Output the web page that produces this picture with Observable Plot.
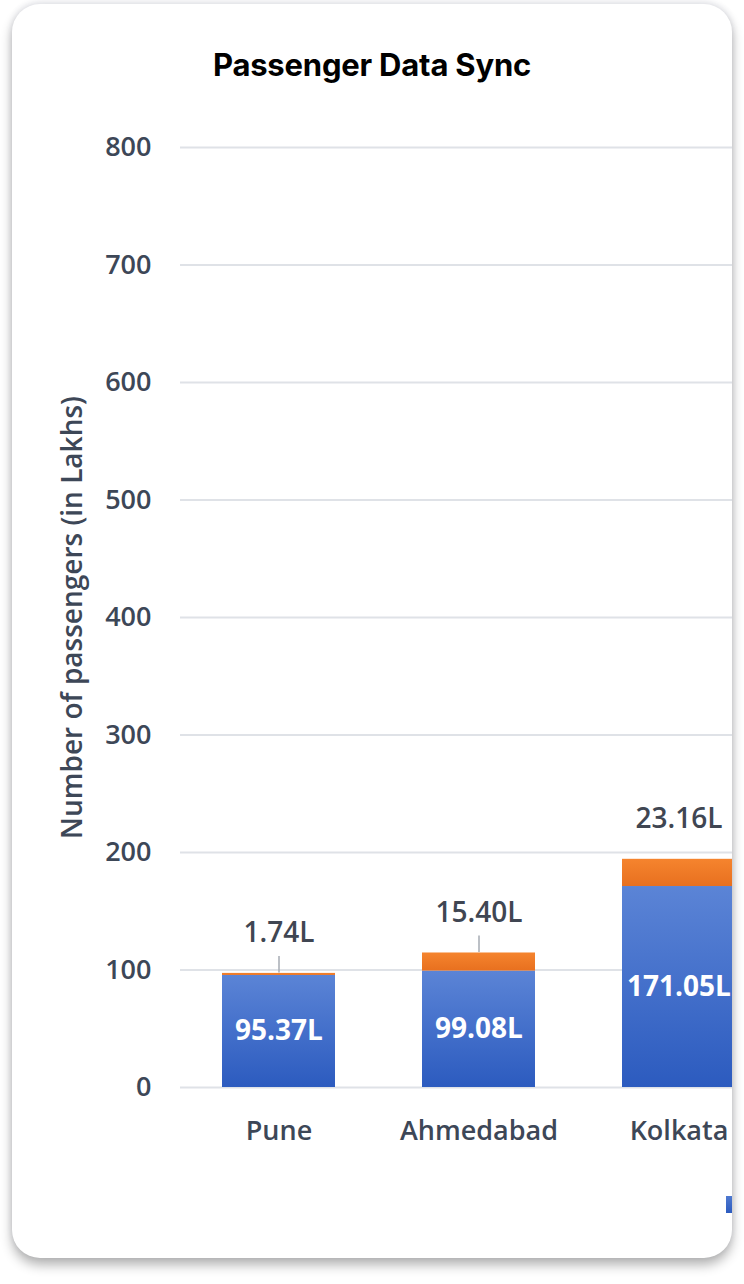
<!DOCTYPE html>
<html>
<head>
<meta charset="utf-8">
<script src="https://cdn.jsdelivr.net/npm/d3@7"></script>
<script src="https://cdn.jsdelivr.net/npm/@observablehq/plot@0.6"></script>
<style>
  html, body { margin: 0; padding: 0; background: #ffffff; width: 744px; height: 1284px; overflow: hidden; }
  #card {
    position: absolute; left: 12px; top: 4px; width: 720px; height: 1254px;
    background: #fff; border-radius: 28px; overflow: hidden;
    box-shadow: 0 7px 12px rgba(0,0,0,0.30), 0 -2px 6px rgba(40,50,90,0.12);
  }
  #title {
    position: absolute; left: 0; top: 44px; width: 100%; height: 34px; line-height: 34px;
    text-align: center; font-family: Inter, "Noto Sans", sans-serif; font-weight: 700;
    font-size: 31px; color: #000; letter-spacing: -0.2px;
  }
  #chart { position: absolute; left: 0; top: 96px; }
  #chart svg { max-width: none !important; }
  #legend { position: absolute; left: 714px; top: 1192px; display: flex; align-items: center; gap: 8px;
    font-family: "Open Sans", sans-serif; font-size: 24px; color: #3d4757; white-space: nowrap; }
  #legend .sw { width: 17px; height: 17px; background: linear-gradient(#4f79d0, #2c5bbf); }
</style>
</head>
<body>
<div id="card">
  <div id="title">Passenger Data Sync</div>
  <div id="chart"></div>
  <div id="legend"><span class="sw"></span></div>
</div>
<script>
const cities = ["Pune", "Ahmedabad", "Kolkata"];
const syncedValues = [95.37, 99.08, 171.05];   // blue segment (lakhs)
const extraValues = [1.74, 15.40, 23.16];      // orange segment (lakhs)
const yTicks = [0, 100, 200, 300, 400, 500, 600, 700, 800];
const leaderCities = ["Pune", "Ahmedabad"];
const yLabel = "Number of passengers (in Lakhs)";

const fmt = v => d3.format(".2f")(v) + "L";

const rows = [];
cities.forEach((c, i) => {
  rows.push({city: c, series: "synced", value: syncedValues[i]});
  rows.push({city: c, series: "extra", value: extraValues[i]});
});
const totals = cities.map((c, i) => ({city: c, synced: syncedValues[i], extra: extraValues[i], total: syncedValues[i] + extraValues[i]}));
const gradFor = {synced: "url(#gBlue)", extra: "url(#gOrange)"};

const textColor = "#3d4757";

const chart = Plot.plot({
  width: 800,
  height: 1158,
  marginLeft: 168,
  marginRight: 0,
  marginTop: 47,
  marginBottom: 171,
  style: {fontFamily: "'Open Sans', sans-serif", color: textColor, background: "transparent", overflow: "visible"},
  x: {domain: cities, range: [166.5, 766.5], paddingInner: 0.435, paddingOuter: 0.2175, label: null},
  y: {domain: [0, 800], label: null},
  color: {type: "identity"},
  marks: [
    Plot.ruleY(yTicks, {stroke: "#dfe2e7", strokeWidth: 2}),
    Plot.axisY({ticks: yTicks, tickSize: 0, tickPadding: 29, fontSize: 27, fontWeight: 600, label: null, fill: textColor}),
    Plot.axisX({tickSize: 0, tickPadding: 33, fontSize: 27, fontWeight: 600, label: null, fill: textColor}),
    Plot.text([yLabel], {frameAnchor: "left", textAnchor: "middle", text: d => d, rotate: -90, dx: -107, fontSize: 28, fontWeight: 600, fill: textColor}),
    Plot.barY(rows, {x: "city", y: "value", fill: d => gradFor[d.series]}),
    Plot.text(totals, {x: "city", y: d => d.synced / 2, text: d => fmt(d.synced), fill: "white", fontSize: 28, fontWeight: "bold"}),
    Plot.link(totals.filter(d => leaderCities.includes(d.city)), {x1: "city", x2: "city", y1: "total", y2: d => d.total + 14, stroke: "#a6abb3", strokeWidth: 1.5, dy: -1}),
    Plot.text(totals, {x: "city", y: "total", text: d => fmt(d.extra), dy: -40, fill: "#404652", fontSize: 28, fontWeight: 600})
  ]
});

const svg = d3.select(chart);
svg.style("max-width", "none");
const defs = svg.insert("defs", ":first-child");
const gb = defs.append("linearGradient").attr("id", "gBlue").attr("x1", 0).attr("y1", 0).attr("x2", 0).attr("y2", 1);
gb.append("stop").attr("offset", "0%").attr("stop-color", "#5b84d6");
gb.append("stop").attr("offset", "100%").attr("stop-color", "#2c5bbf");
const go = defs.append("linearGradient").attr("id", "gOrange").attr("x1", 0).attr("y1", 0).attr("x2", 0).attr("y2", 1);
go.append("stop").attr("offset", "0%").attr("stop-color", "#f5842e");
go.append("stop").attr("offset", "100%").attr("stop-color", "#e8701f");

document.getElementById("chart").appendChild(chart);
</script>
</body>
</html>
